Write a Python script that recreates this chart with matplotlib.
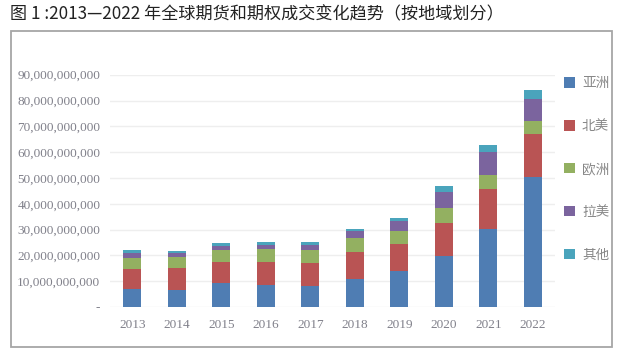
import matplotlib
matplotlib.use('Agg')
import matplotlib.pyplot as plt
from matplotlib.patches import Rectangle, Patch
from matplotlib.ticker import FuncFormatter, MultipleLocator
import numpy as np

# --- data (in 1e9 contracts) ---
years = ['2013', '2014', '2015', '2016', '2017', '2018', '2019', '2020', '2021', '2022']
asia = [7.0, 6.7, 9.3, 8.4, 8.1, 10.9, 14.0, 19.8, 30.2, 50.4]
north_america = [7.7, 8.4, 8.1, 9.0, 9.0, 10.4, 10.4, 12.8, 15.5, 16.7]
europe = [4.3, 4.3, 4.7, 5.1, 5.0, 5.4, 5.1, 5.8, 5.5, 5.0]
latin_america = [1.9, 1.5, 1.5, 1.5, 1.9, 2.8, 3.8, 6.2, 8.9, 8.5]
other = [1.2, 0.8, 1.2, 1.2, 1.2, 0.7, 1.2, 2.3, 2.7, 3.5]

series_names = ['亚洲', '北美', '欧洲', '拉美', '其他']
colors = ['#4F7DB3', '#B95454', '#93B061', '#7B649E', '#4AA4BC']

W, H = 623, 356
fig = plt.figure(figsize=(W / 100, H / 100), dpi=100)

# outer frame
fig.patches.append(Rectangle((11 / W, 9 / H), 601 / W, 316 / H, transform=fig.transFigure,
                             fill=False, edgecolor='#a6a6a6', linewidth=1.3))

fig.text(10 / W, 1 - 14 / H, '图 1 :2013—2022 年全球期货和期权成交变化趋势（按地域划分）',
         fontsize=12.3, color='#222222', va='center', ha='left',
         family=['Noto Sans CJK SC', 'DejaVu Sans'])

ax = fig.add_axes([110 / W, 49 / H, 445 / W, 232.3 / H])

x = np.arange(len(years))
bottom = np.zeros(len(years))
for vals, c in zip([asia, north_america, europe, latin_america, other], colors):
    v = np.array(vals) * 1e9
    ax.bar(x, v, width=0.41, bottom=bottom, color=c, zorder=3)
    bottom += v

ax.set_xlim(-0.5, len(years) - 0.5)
ax.set_ylim(0, 90e9)
ax.yaxis.set_major_locator(MultipleLocator(10e9))
ax.yaxis.set_major_formatter(FuncFormatter(lambda v, p: '-' if v == 0 else f'{v:,.0f}'))
ax.set_xticks(x)
ax.set_xticklabels(years)
ax.grid(axis='y', color='#eeeeee', linewidth=1, zorder=0)
for s in ax.spines.values():
    s.set_visible(False)
ax.tick_params(length=0, colors='#868686', labelsize=9.5, pad=7)
for lab in ax.get_xticklabels() + ax.get_yticklabels():
    lab.set_family('Liberation Serif')
    lab.set_color('#80808a')
ax.tick_params(axis='x', pad=9)

handles = [Patch(facecolor=c, edgecolor='none') for c in colors]
fig.legend(handles, series_names, loc='upper left', bbox_to_anchor=(552 / W, 1 - 64 / H),
           frameon=False, labelspacing=2.12, handlelength=0.8,
           handleheight=0.8, handletextpad=0.5, labelcolor='#888888',
           prop={'family': ['Noto Sans CJK SC', 'DejaVu Sans'], 'size': 9.8})

fig.savefig('out.png', dpi=100)
